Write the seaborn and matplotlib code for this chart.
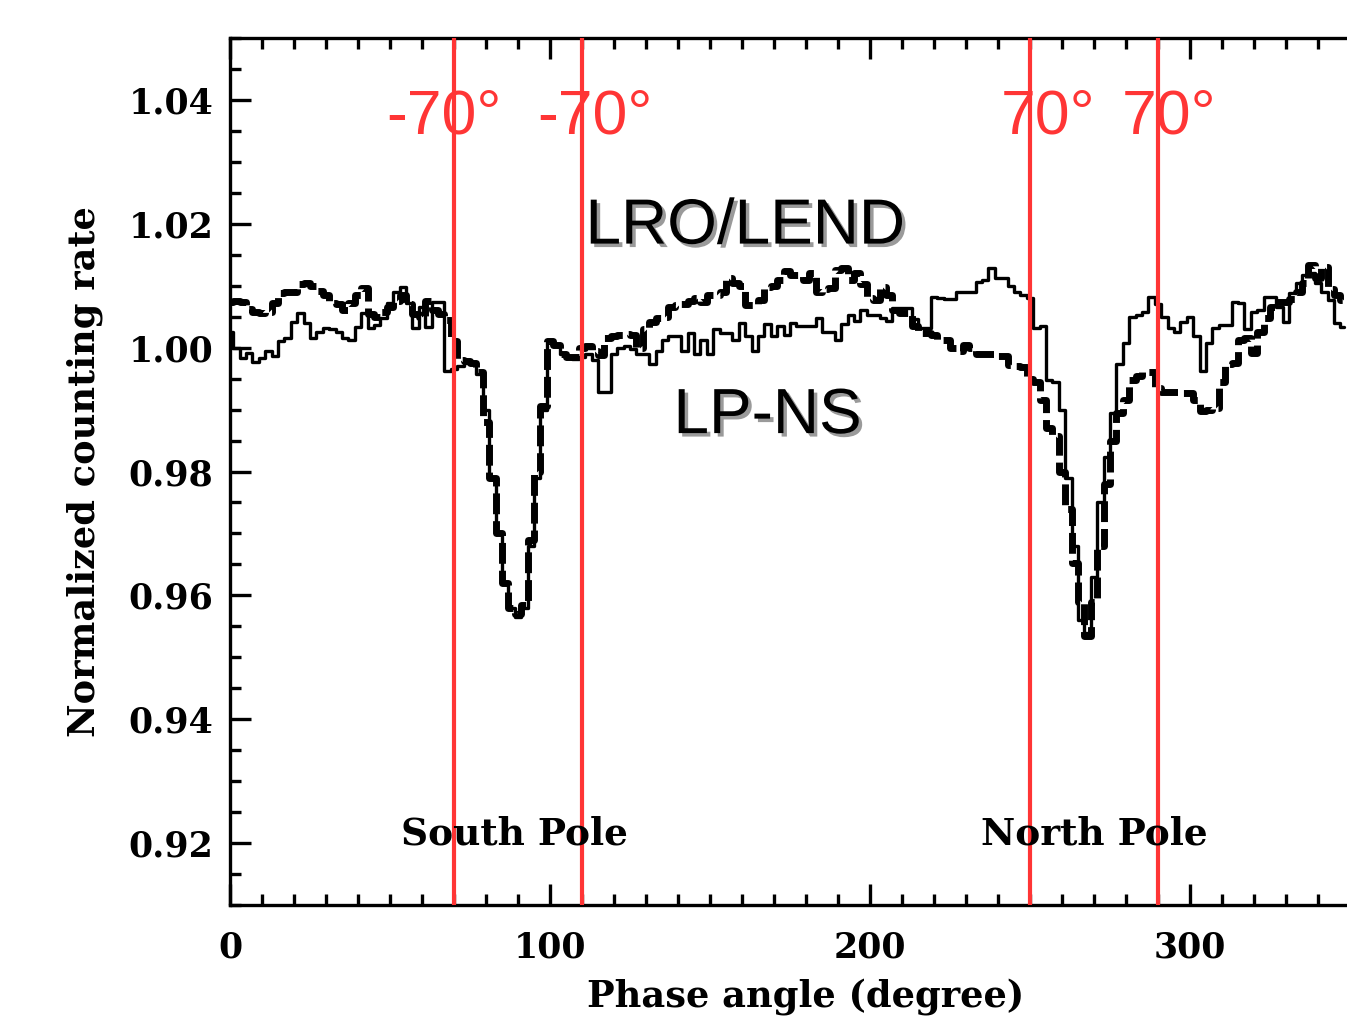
import numpy as np
import pandas as pd
import matplotlib
matplotlib.use("Agg")
import matplotlib.pyplot as plt
import matplotlib.patheffects as pe
from matplotlib.ticker import MultipleLocator
import seaborn as sns

# ---- data (2-degree bins of phase angle) ----
phase = np.arange(0, 350, 2)

lp_ns = [
    1.0026, 1.0000, 0.9984, 0.9992, 0.9977, 0.9984, 0.9995, 0.9987, 1.0010, 1.0016,
    1.0042, 1.0056, 1.0040, 1.0016, 1.0026, 1.0032, 1.0030, 1.0026, 1.0016, 1.0013,
    1.0034, 1.0056, 1.0032, 1.0037, 1.0048, 1.0072, 1.0090, 1.0098, 1.0072, 1.0032,
    1.0066, 1.0034, 1.0074, 1.0074, 0.9962, 0.9965, 0.9970, 0.9976, 0.9976, 0.9958,
    0.9900, 0.9790, 0.9700, 0.9620, 0.9580, 0.9565, 0.9580, 0.9680, 0.9790, 0.9900,
    1.0010, 1.0005, 0.9990, 0.9985, 0.9982, 0.9985, 0.9990, 0.9980, 0.9929, 0.9929,
    0.9989, 1.0000, 1.0002, 0.9998, 0.9989, 0.9989, 0.9973, 0.9995, 1.0013, 1.0018,
    1.0018, 0.9995, 1.0024, 0.9990, 1.0013, 0.9990, 1.0030, 1.0023, 1.0023, 1.0013,
    1.0040, 1.0018, 0.9995, 1.0018, 1.0038, 1.0018, 1.0035, 1.0021, 1.0040, 1.0035,
    1.0035, 1.0035, 1.0048, 1.0025, 1.0025, 1.0013, 1.0038, 1.0053, 1.0043, 1.0060,
    1.0053, 1.0053, 1.0048, 1.0043, 1.0064, 1.0064, 1.0064, 1.0046, 1.0032, 1.0032,
    1.0082, 1.0080, 1.0078, 1.0078, 1.0090, 1.0090, 1.0090, 1.0106, 1.0110, 1.0129,
    1.0113, 1.0113, 1.0100, 1.0090, 1.0085, 1.0080, 1.0032, 1.0035, 0.9948, 0.9945,
    0.9900, 0.9790, 0.9680, 0.9560, 0.9540, 0.9630, 0.9750, 0.9824, 0.9895, 0.9973,
    1.0008, 1.0050, 1.0052, 1.0058, 1.0082, 1.0070, 1.0050, 1.0032, 1.0026, 1.0042,
    1.0050, 1.0018, 0.9962, 1.0008, 1.0032, 1.0037, 1.0037, 1.0074, 1.0072, 1.0030,
    1.0058, 1.0060, 1.0082, 1.0082, 1.0066, 1.0042, 1.0089, 1.0105, 1.0118, 1.0120,
    1.0105, 1.0090, 1.0077, 1.0040, 1.0034,
]

lro_lend = [
    1.0074, 1.0076, 1.0074, 1.0062, 1.0058, 1.0056, 1.0058, 1.0072, 1.0088, 1.0090,
    1.0090, 1.0102, 1.0105, 1.0100, 1.0092, 1.0085, 1.0072, 1.0070, 1.0060, 1.0072,
    1.0085, 1.0097, 1.0055, 1.0050, 1.0058, 1.0065, 1.0075, 1.0085, 1.0070, 1.0055,
    1.0050, 1.0075, 1.0060, 1.0055, 1.0045, 1.0010, 0.9980, 0.9978, 0.9975, 0.9960,
    0.9880, 0.9790, 0.9700, 0.9620, 0.9580, 0.9570, 0.9585, 0.9690, 0.9800, 0.9905,
    1.0010, 1.0005, 0.9990, 0.9985, 0.9985, 1.0000, 1.0002, 0.9995, 0.9988, 1.0015,
    1.0018, 1.0020, 1.0022, 1.0020, 1.0000, 1.0030, 1.0042, 1.0048, 1.0050, 1.0066,
    1.0069, 1.0070, 1.0075, 1.0080, 1.0073, 1.0085, 1.0085, 1.0090, 1.0113, 1.0105,
    1.0100, 1.0069, 1.0069, 1.0077, 1.0098, 1.0100, 1.0110, 1.0123, 1.0118, 1.0118,
    1.0110, 1.0120, 1.0090, 1.0095, 1.0097, 1.0125, 1.0129, 1.0110, 1.0120, 1.0102,
    1.0080, 1.0077, 1.0098, 1.0085, 1.0060, 1.0056, 1.0056, 1.0035, 1.0024, 1.0024,
    1.0020, 1.0013, 1.0013, 1.0000, 0.9994, 1.0005, 1.0000, 0.9989, 0.9989, 0.9989,
    0.9986, 0.9986, 0.9972, 0.9970, 0.9968, 0.9950, 0.9945, 0.9916, 0.9870, 0.9857,
    0.9800, 0.9740, 0.9653, 0.9590, 0.9535, 0.9590, 0.9680, 0.9780, 0.9850, 0.9895,
    0.9915, 0.9948, 0.9955, 0.9961, 0.9961, 0.9935, 0.9929, 0.9929, 0.9929, 0.9926,
    0.9926, 0.9915, 0.9897, 0.9900, 0.9902, 0.9944, 0.9973, 0.9975, 1.0013, 1.0015,
    0.9992, 1.0026, 1.0048, 1.0066, 1.0074, 1.0074, 1.0078, 1.0090, 1.0105, 1.0134,
    1.0113, 1.0130, 1.0095, 1.0085, 1.0077,
]

boundary_angles = [70, 110, 250, 290]
boundary_labels = ["-70°", "-70°", "70°", "70°"]
boundary_label_x = [67, 114, 255.5, 293.5]
x_ticks = [0, 100, 200, 300]
y_ticks = [0.92, 0.94, 0.96, 0.98, 1.00, 1.02, 1.04]

# ---- style ----
sns.set_theme(style="white")
plt.rcParams["font.family"] = ["DejaVu Serif"]
plt.rcParams["font.weight"] = "bold"
for k in ["text.color", "axes.labelcolor", "xtick.color", "ytick.color", "axes.edgecolor"]:
    plt.rcParams[k] = "black"

W, H = 1347, 1017
fig = plt.figure(figsize=(W / 100, H / 100), dpi=100)
fig.patch.set_facecolor("white")
ax = fig.add_axes([230 / W, 112 / H, 1152 / W, 867 / H])
ax.set_facecolor("white")

df = pd.DataFrame({"phase": phase, "LP-NS": lp_ns, "LRO/LEND": lro_lend})

sns.lineplot(data=df, x="phase", y="LRO/LEND", ax=ax, color="black",
             linewidth=5.0, drawstyle="steps-mid", estimator=None, sort=False,
             linestyle=(0, (3.0, 1.0)), zorder=2)
sns.lineplot(data=df, x="phase", y="LP-NS", ax=ax, color="black",
             linewidth=2.4, drawstyle="steps-mid", estimator=None, sort=False,
             zorder=2.5)

red = "#FF3535"
for a in boundary_angles:
    ax.axvline(a, color=red, linewidth=3.0, zorder=3)
for xl, lab in zip(boundary_label_x, boundary_labels):
    ax.text(xl, 1.0346, lab, color=red, fontsize=45, family="Liberation Sans",
            fontweight="normal", ha="center", va="baseline", zorder=4)

shadow = [pe.SimplePatchShadow(offset=(2.5, -2.5), shadow_rgbFace="#9a9a9a", alpha=1.0),
          pe.Normal()]
ax.text(161, 1.0168, "LRO/LEND", fontsize=46, family="Liberation Sans",
        fontweight="normal", ha="center", va="baseline", color="black",
        path_effects=shadow, zorder=4)
ax.text(168, 0.9862, "LP-NS", fontsize=46, family="Liberation Sans",
        fontweight="normal", ha="center", va="baseline", color="black",
        path_effects=shadow, zorder=4)

ax.text(89, 0.9197, "South Pole", fontsize=27, fontweight="bold",
        ha="center", va="baseline", color="black", zorder=4)
ax.text(270, 0.9197, "North Pole", fontsize=27, fontweight="bold",
        ha="center", va="baseline", color="black", zorder=4)

ax.set_xlim(0, 360)
ax.set_ylim(0.910, 1.050)
ax.set_xticks(x_ticks)
ax.set_yticks(y_ticks)
ax.set_yticklabels([f"{v:.2f}" for v in y_ticks])
ax.xaxis.set_minor_locator(MultipleLocator(10))
ax.yaxis.set_minor_locator(MultipleLocator(0.005))
ax.tick_params(axis="both", which="major", direction="in", length=15, width=2.4,
               labelsize=25, top=True, bottom=True, left=True, right=False,
               color="black", labelcolor="black")
ax.tick_params(axis="both", which="minor", direction="in", length=8, width=2.4,
               top=True, bottom=True, left=True, right=False, color="black")
ax.tick_params(axis="x", which="major", pad=18)
ax.tick_params(axis="y", which="major", pad=12)
for lab in ax.get_xticklabels() + ax.get_yticklabels():
    lab.set_fontweight("bold")

for side in ["left", "bottom", "top"]:
    ax.spines[side].set_visible(True)
    ax.spines[side].set_color("black")
    ax.spines[side].set_linewidth(2.4)
ax.spines["right"].set_visible(False)

ax.set_xlabel("Phase angle (degree)", fontsize=26.5, fontweight="bold", labelpad=10)
ax.set_ylabel("Normalized counting rate", fontsize=26.5, fontweight="bold", labelpad=18)
ax.grid(False)

fig.savefig("out.png", dpi=100, facecolor="white")
